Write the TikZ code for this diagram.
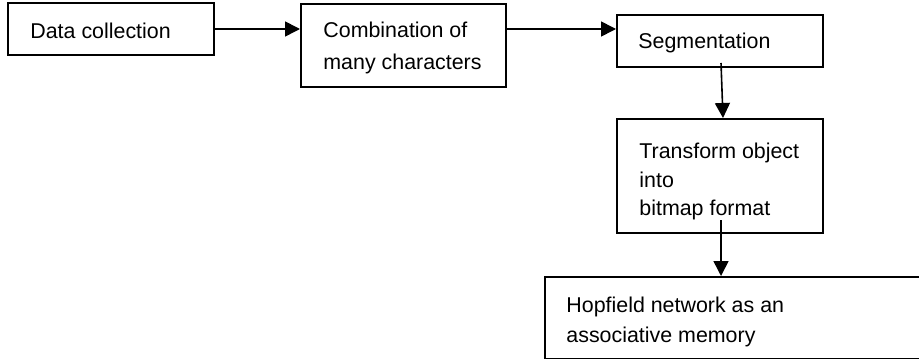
\documentclass[tikz,border=0pt]{standalone}
\usepackage{fontspec}
\setmainfont{Liberation Sans}
\usetikzlibrary{arrows.meta}
\begin{document}
\begin{tikzpicture}[x=0.5pt,y=-0.5pt,
  box/.style={draw=black,line width=1pt,inner sep=0pt,minimum width=#1},
  box/.default=103pt,
  lbl/.style={anchor=base west,inner sep=0pt,font=\fontsize{10.7}{15}\selectfont},
  arr/.style={draw=black,line width=0.8pt,-{Triangle[length=7.5pt,width=7.5pt]}}]
\useasboundingbox (0,0) rectangle (919,358);
\clip (0,0) rectangle (919,358);
% boxes
\node[box=103pt,minimum height=26pt] (b1) at (111,29) {};
\node[box=102.5pt,minimum height=41.5pt] (b2) at (403.5,45.5) {};
\node[box=103pt,minimum height=26pt] (b3) at (720,41) {};
\node[box=103pt,minimum height=57pt] (b4) at (720,176) {};
\node[box=227.5pt,minimum height=41.15pt] (b5) at (772.5,318.15) {};
% texts
\node[lbl] (t1) at (30,39) {Data collection};
\node[lbl] (t2a) at (323,38) {Combination of};
\node[lbl] (t2b) at (323,69) {many characters};
\node[lbl] (t3) at (638,49) {Segmentation};
\node[lbl] (t4a) at (639,158) {Transform object};
\node[lbl] (t4b) at (639,187) {into};
\node[lbl] (t4c) at (639,215) {bitmap format};
\node[lbl] (t5a) at (566,312) {Hopfield network as an};
\node[lbl] (t5b) at (566,342) {associative memory};
% connectors
\draw[arr] (b1.east) -- (b2.west |- b1.east);
\draw[arr] (b2.east |- b1.east) -- (b3.west |- b1.east);
\draw[arr] ([xshift=0.5pt,yshift=2.5pt]b3.south) -- ([xshift=1.5pt]b4.north);
\draw[arr] ([xshift=0.5pt,yshift=7pt]b4.south) -- ([xshift=0.5pt]b4.south |- b5.north);
\end{tikzpicture}
\end{document}
